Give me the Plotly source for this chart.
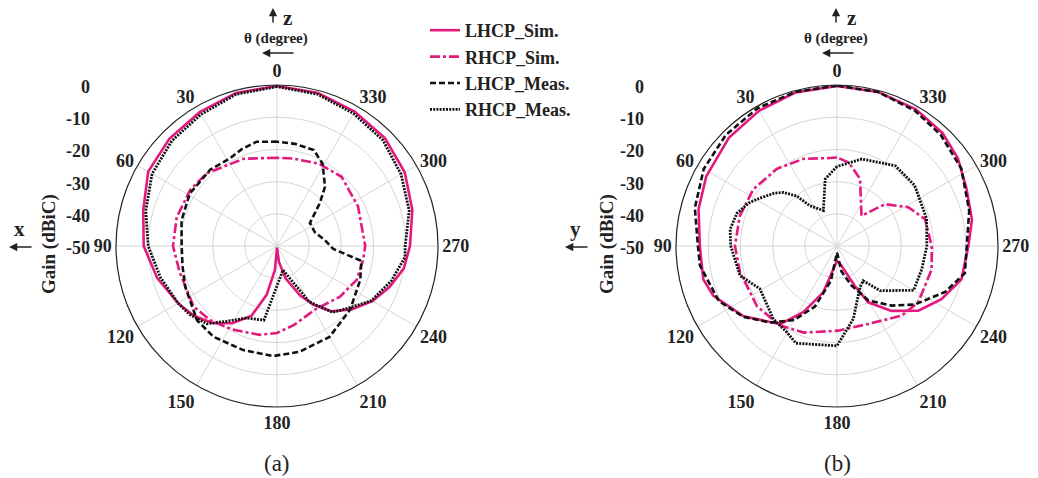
import plotly.graph_objects as go

W, H = 1038, 478
SERIF = "Liberation Serif, Times New Roman, serif"
PINK = "#E3197E"
BLACK = "#111111"

# ---------------- data (theta in degrees, gain in dBiC) ----------------
ANG_TICKS = [0, 30, 60, 90, 120, 150, 180, 210, 240, 270, 300, 330]
RAD_TICKS = [0, -10, -20, -30, -40, -50]

# (a) x-z plane
a_lhcp_sim_t = [0, 15, 30, 45, 60, 75, 90, 105, 120, 130, 140, 150, 160, 168, 175, 180,
                187, 195, 205, 212, 220, 230, 240, 250, 260, 270, 285, 300, 315, 330, 345, 360]
a_lhcp_sim_r = [-0.3, -0.8, -2.0, -2.8, -3.8, -7.0, -8.6, -11.5, -14.5, -16.3, -18.8, -22.3, -27.0,
                -34.5, -42.5, -49.5, -45.0, -39.5, -33.0, -28.5, -23.5, -19.5, -15.8, -12.8, -10.0,
                -8.7, -6.5, -4.2, -2.6, -1.8, -0.8, -0.3]

a_rhcp_sim_t = [0, 10, 21, 44, 57, 74, 90, 105, 126, 138, 152, 169, 180, 192, 212, 231, 247,
                261, 270, 296, 317, 333, 350, 360]
a_rhcp_sim_r = [-22.6, -22.3, -21.0, -18.6, -17.9, -17.6, -17.7, -18.7, -18.0, -19.0, -20.6, -21.9,
                -23.0, -24.9, -27.0, -24.9, -23.1, -22.9, -22.6, -22.0, -20.6, -21.3, -22.4, -22.6]

a_lhcp_meas_t = [0, 11, 20, 28, 41, 59, 75, 90, 102, 114, 133, 145, 162, 178, 192, 210, 229, 248,
                 260, 267, 277, 290, 305, 315, 321, 331, 339, 350, 360]
a_lhcp_meas_r = [-17.6, -17.0, -18.0, -19.1, -18.5, -18.4, -19.3, -20.4, -20.0, -18.8, -16.1, -15.6,
                 -16.0, -15.8, -16.4, -17.4, -19.9, -22.1, -23.4, -32.5, -35.0, -37.5, -37.5, -31.2,
                 -26.3, -20.8, -18.1, -17.8, -17.6]

a_rhcp_meas_t = [0, 15, 30, 45, 60, 75, 90, 105, 120, 128, 138, 146, 157, 170, 194, 210, 220, 229,
                 240, 253, 265, 270, 285, 300, 315, 330, 345, 360]
a_rhcp_meas_r = [-0.5, -1.2, -2.8, -3.8, -5.2, -7.8, -10.0, -12.5, -14.5, -15.5, -17.5, -21.8, -25.7,
                 -26.6, -42.3, -30.0, -23.1, -20.6, -16.1, -12.9, -10.1, -10.2, -7.5, -5.5, -3.5,
                 -2.5, -1.2, -0.5]

# (b) y-z plane
b_lhcp_sim_t = [0, 15, 30, 45, 62, 75, 90, 104, 112, 127, 144, 153, 163.5, 174, 180, 193, 204, 209,
                220, 231.5, 243, 255, 270, 281, 294, 306, 317, 330, 345, 360]
b_lhcp_sim_r = [-0.3, -0.6, -1.5, -2.5, -4.0, -5.5, -7.4, -7.2, -8.6, -13.7, -20.0, -26.9, -35.0,
                -43.9, -45.4, -43.7, -36.5, -30.0, -23.7, -17.7, -13.6, -10.0, -9.2, -7.3, -6.0,
                -3.6, -2.0, -1.0, -0.5, -0.3]

b_rhcp_sim_t = [0, 4.5, 21, 38, 56, 73, 90, 105, 127, 144, 159, 181, 202, 223, 235, 256, 270, 287,
                298.5, 311, 321, 341, 352, 360]
b_rhcp_sim_r = [-22.5, -22.6, -21.0, -19.6, -18.6, -18.4, -18.3, -18.8, -18.9, -19.6, -21.2, -23.7,
                -23.9, -20.5, -19.3, -19.7, -20.6, -21.4, -24.8, -30.2, -37.9, -28.0, -23.8, -22.5]

b_lhcp_meas_t = [0, 15, 30, 45, 60, 75, 90, 98, 115, 127, 139, 150, 160, 170, 180, 190, 200, 210,
                 222.5, 233, 247, 258, 270, 285, 302, 317, 330, 345, 360]
b_lhcp_meas_r = [-0.2, -0.4, -0.6, -1.2, -2.2, -4.3, -6.8, -7.0, -9.5, -13.5, -18.5, -23.5, -30.0,
                 -39.0, -48.0, -42.0, -37.0, -30.5, -24.9, -19.8, -13.5, -9.4, -9.7, -7.5, -4.5,
                 -2.8, -1.5, -0.5, -0.2]

b_rhcp_meas_t = [0, 10, 21, 34, 39, 45, 50, 59, 64, 72, 81, 90, 107, 119, 139, 150, 157, 180,
                 192.6, 209, 217, 224, 240, 255, 270, 287, 308, 324, 344, 360]
b_rhcp_meas_r = [-25.3, -28.9, -38.2, -34.9, -30.0, -26.5, -24.5, -21.5, -19.5, -17.3, -16.4, -17.0,
                 -18.5, -22.6, -19.9, -19.0, -17.2, -19.0, -26.8, -35.3, -36.5, -30.7, -22.5, -22.7,
                 -22.1, -20.9, -19.4, -19.2, -21.9, -25.3]

SERIES = ["LHCP_Sim.", "RHCP_Sim.", "LHCP_Meas.", "RHCP_Meas."]
STYLE = {
    "LHCP_Sim.": dict(color=PINK, dash="solid", width=2.6),
    "RHCP_Sim.": dict(color=PINK, dash="10px,3px,3px,3px", width=2.6),
    "LHCP_Meas.": dict(color=BLACK, dash="6px,3px", width=2.6),
    "RHCP_Meas.": dict(color=BLACK, dash="2px,1.2px", width=2.8),
}
PANEL_A = {"LHCP_Sim.": (a_lhcp_sim_t, a_lhcp_sim_r), "RHCP_Sim.": (a_rhcp_sim_t, a_rhcp_sim_r),
           "LHCP_Meas.": (a_lhcp_meas_t, a_lhcp_meas_r), "RHCP_Meas.": (a_rhcp_meas_t, a_rhcp_meas_r)}
PANEL_B = {"LHCP_Sim.": (b_lhcp_sim_t, b_lhcp_sim_r), "RHCP_Sim.": (b_rhcp_sim_t, b_rhcp_sim_r),
           "LHCP_Meas.": (b_lhcp_meas_t, b_lhcp_meas_r), "RHCP_Meas.": (b_rhcp_meas_t, b_rhcp_meas_r)}

fig = go.Figure()
for subplot, panel, show in (("polar", PANEL_A, True), ("polar2", PANEL_B, False)):
    for name in SERIES:
        t, r = panel[name]
        fig.add_trace(go.Scatterpolar(theta=t, r=r, mode="lines", name=name, legendgroup=name,
                                      showlegend=show, subplot=subplot, line=STYLE[name]))

def px(x):
    return x / W

def py(y):
    return 1 - y / H

R_MIN, R_MAX = -50, 0
Y_DOM = [py(407), py(85)]
DOMS = {"polar": [px(116), px(438)], "polar2": [px(676), px(998)]}

def polar_layout(xdom):
    return dict(
        domain=dict(x=xdom, y=Y_DOM),
        bgcolor="white",
        angularaxis=dict(rotation=90, direction="counterclockwise", tickmode="array",
                         tickvals=ANG_TICKS, ticktext=[str(v) for v in ANG_TICKS],
                         showline=True, linecolor="#222222", linewidth=1.2,
                         gridcolor="#d6d6d6", gridwidth=1, ticks="",
                         tickfont=dict(family=SERIF, size=18, color="#222222", weight="bold")),
        radialaxis=dict(range=[R_MIN, R_MAX], tickvals=RAD_TICKS, showticklabels=False,
                        ticks="", showline=False, gridcolor="#d6d6d6", gridwidth=1),
    )

ann = []
bold = dict(family=SERIF, color="#222222", weight="bold")

def text(x, y, s, size, angle=0, xanchor="center", weight="bold"):
    ann.append(dict(x=px(x), y=py(y), xref="paper", yref="paper", text=s, showarrow=False,
                    xanchor=xanchor, yanchor="middle", textangle=angle,
                    font=dict(family=SERIF, size=size, color="#222222", weight=weight)))

def arrow(x, y, ax, ay):
    ann.append(dict(x=px(x), y=py(y), xref="paper", yref="paper", text="", showarrow=True,
                    ax=ax, ay=ay, arrowhead=2, arrowsize=1.1, arrowwidth=1.5, arrowcolor="#222222"))

panels = [
    dict(dom=DOMS["polar"], label_x=92, axis="x", axis_x=19, gain_x=49, z_x=273, cap="(a)"),
    dict(dom=DOMS["polar2"], label_x=646, axis="y", axis_x=575, gain_x=607, z_x=836, cap="(b)"),
]
cy = (Y_DOM[0] + Y_DOM[1]) / 2
rad = (Y_DOM[1] - Y_DOM[0]) / 2
for p in panels:
    cx_px = (p["dom"][0] + p["dom"][1]) / 2 * W
    for v in RAD_TICKS:
        yv = cy + (v - R_MIN) / (R_MAX - R_MIN) * rad
        ann.append(dict(x=px(p["label_x"]), y=yv - 2.0 / H, xref="paper", yref="paper",
                        text=str(v), showarrow=False, xanchor="right", yanchor="middle",
                        font=dict(size=18, **bold)))
    text(p["gain_x"], 244, "Gain (dBiC)", 19, angle=-90)
    text(p["axis_x"], 229, p["axis"], 21)
    arrow(p["axis_x"] - 10, 247, 24, 0)
    arrow(p["z_x"], 8, 0, 16)
    text(p["z_x"] + 15, 18, "z", 21)
    text(cx_px - 1, 38, "θ (degree)", 15)
    arrow(cx_px - 15, 53, 33, 0)
    text(cx_px, 463, p["cap"], 23, weight="normal")

fig.update_layout(
    width=W, height=H, margin=dict(l=0, r=0, t=0, b=0),
    paper_bgcolor="white", plot_bgcolor="white",
    polar=polar_layout(DOMS["polar"]), polar2=polar_layout(DOMS["polar2"]),
    annotations=ann,
    legend=dict(x=px(425), y=py(12), xanchor="left", yanchor="top", bgcolor="rgba(0,0,0,0)",
                font=dict(family=SERIF, size=18, color="#222222", weight="bold"),
                itemwidth=30, tracegroupgap=0),
)

fig.write_html("out.html", config={"displayModeBar": False},
               post_script="document.body.style.margin='0px';")
